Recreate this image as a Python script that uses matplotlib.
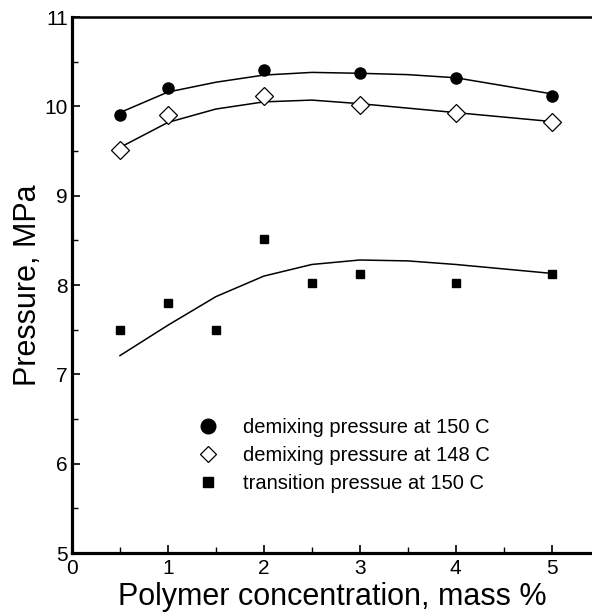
import matplotlib.pyplot as plt
from matplotlib.lines import Line2D
import numpy as np

plt.rcParams['font.family'] = ['Liberation Sans', 'DejaVu Sans']

# polymer concentration, mass %
conc = [0.5, 1, 2, 3, 4, 5]
demix_150 = [9.90, 10.21, 10.41, 10.37, 10.32, 10.12]
demix_148 = [9.51, 9.90, 10.12, 10.01, 9.92, 9.83]

conc_tr = [0.5, 1, 1.5, 2, 2.5, 3, 4, 5]
trans_150 = [7.50, 7.80, 7.50, 8.52, 8.02, 8.12, 8.02, 8.12]

# smoothed trend lines
conc_fit = [0.5, 1.0, 1.5, 2.0, 2.5, 3.0, 3.5, 4.0, 4.5, 5.0]
fit_150 = [9.93, 10.16, 10.27, 10.35, 10.38, 10.37, 10.355, 10.32, 10.23, 10.14]
fit_148 = [9.54, 9.82, 9.97, 10.05, 10.07, 10.03, 9.98, 9.93, 9.88, 9.83]
fit_tr = [7.21, 7.55, 7.87, 8.10, 8.23, 8.28, 8.27, 8.23, 8.18, 8.13]

labels = ['demixing pressure at 150 C',
          'demixing pressure at 148 C',
          'transition pressue at 150 C']

fig = plt.figure(figsize=(5.92, 6.14), dpi=100)
ax = fig.add_axes([0.1216, 0.0993, 0.8784, 0.873])

for fit in (fit_150, fit_148, fit_tr):
    ax.plot(conc_fit, fit, color='black', lw=1.1)

ax.plot(conc, demix_150, 'o', color='black', ms=8, ls='none')
ax.plot(conc, demix_148, 'D', mfc='white', mec='black', mew=0.9, ms=9,
        ls='none')
ax.plot(conc_tr, trans_150, 's', color='black', ms=5.5, ls='none')

ax.set_xlim(0, 5.42)
ax.set_ylim(5, 11)
ax.set_xticks(range(0, 6))
ax.set_yticks(range(5, 12))
ax.set_xticks(np.arange(0.5, 5.5, 1), minor=True)
ax.set_yticks(np.arange(5.5, 11, 1), minor=True)
ax.tick_params(which='major', direction='in', length=6, width=1.2,
               labelsize=15)
ax.tick_params(axis='x', which='major', pad=4)
ax.tick_params(axis='y', which='major', pad=3)
ax.tick_params(which='minor', direction='in', length=4, width=1)

ax.spines['right'].set_visible(False)
ax.spines['left'].set_linewidth(2.3)
ax.spines['bottom'].set_linewidth(2.3)
ax.spines['top'].set_linewidth(1.8)

ax.set_xlabel('Polymer concentration, mass %', fontsize=22, labelpad=3)
ax.set_ylabel('Pressure, MPa', fontsize=22, labelpad=1)

handles = [
    Line2D([], [], marker='o', color='black', ls='none', ms=10.5),
    Line2D([], [], marker='D', mfc='white', mec='black', mew=0.9,
           ls='none', ms=8.5),
    Line2D([], [], marker='s', color='black', ls='none', ms=7.5),
]
ax.legend(handles, labels, loc='upper left', bbox_to_anchor=(0.242, 0.252),
          frameon=False, fontsize=14.5, borderpad=0, borderaxespad=0,
          handletextpad=1.24, labelspacing=0.45, handlelength=1.0)

fig.savefig('out.png', dpi=100)
